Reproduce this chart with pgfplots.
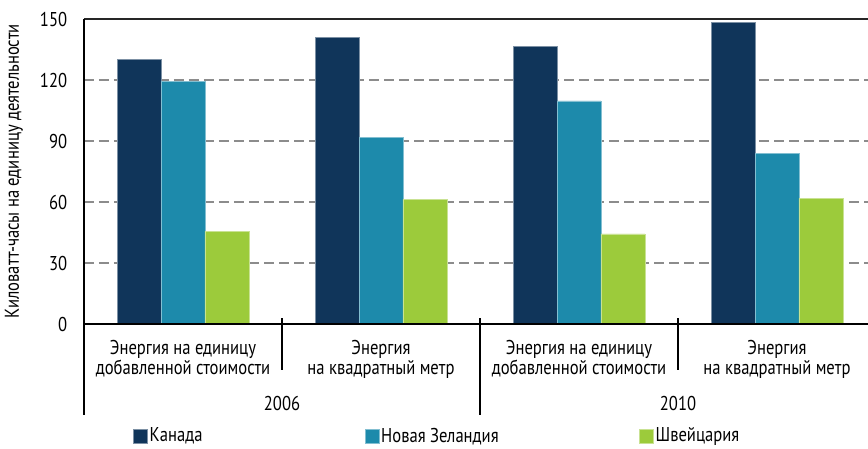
\documentclass[border=0pt]{standalone}
\usepackage{fontspec}
\setmainfont{PT Sans}[FakeStretch=0.83]
\usepackage{pgfplots}
\pgfplotsset{compat=1.18}
\definecolor{cCA}{HTML}{10355A}
\definecolor{cNZ}{HTML}{1D8AAB}
\definecolor{cCH}{HTML}{9CCB3B}
\definecolor{gridgray}{HTML}{8C8C8C}
\begin{document}
\fontsize{20}{20}\selectfont
\begin{tikzpicture}
\useasboundingbox (-84pt,-124pt) rectangle (784pt,324pt);
\begin{axis}[
  scale only axis, width=792pt, height=305pt,
  xmin=-0.5, xmax=3.5, ymin=0, ymax=150,
  ybar=0pt, bar width=0.222,
  xtick={0,1,2,3},
  xticklabels={{Энергия на единицу\\добавленной стоимости},{Энергия\\на квадратный метр},{Энергия на единицу\\добавленной стоимости},{Энергия\\на квадратный метр}},
  xticklabel style={align=center, yshift=-9pt},
  ytick={0,30,60,90,120,150},
  yticklabel style={xshift=-10pt},
  ymajorgrids,
  grid style={gridgray, line width=1.2pt, dash pattern=on 10pt off 5pt},
  major tick length=0pt,
  axis line style={draw=none},
  /pgf/number format/assume math mode=true,
  clip=false,
  ylabel={Киловатт-часы на единицу деятельности},
  every axis y label/.style={at={(axis description cs:-0.0884,0.5)}, rotate=90, anchor=center},
  legend columns=3,
  legend style={at={(axis description cs:0.0619,-0.333)}, anchor=north west, draw=none, fill=none,
    inner sep=0pt, /tikz/every even column/.append style={column sep=5pt}},
  legend image code/.code={\fill[#1] (0pt,-7pt) rectangle (14pt,7pt);},
]
\addplot[fill=cCA, draw=cCA!55!white, line width=0.5pt] coordinates {(0,130.3) (1,140.8) (2,136.4) (3,148.3)};
\addlegendentry{\makebox[208pt][l]{Канада}}
\addplot[fill=cNZ, draw=cNZ!55!white, line width=0.5pt] coordinates {(0,119.4) (1,91.8) (2,109.7) (3,83.8)};
\addlegendentry{\makebox[251pt][l]{Новая Зеландия}}
\addplot[fill=cCH, draw=cCH!55!white, line width=0.5pt] coordinates {(0,45.7) (1,61.3) (2,44.3) (3,61.8)};
\addlegendentry{Швейцария}
\draw[black, line width=1.3pt] (axis cs:-0.5,0) -- (axis cs:3.5,0);
\draw[black!85, line width=2pt] (axis cs:-0.5,150) -- (axis cs:3.5,150);
\draw[black, line width=1.3pt] (axis cs:-0.5,150) -- ([yshift=-91pt]axis cs:-0.5,0);
\draw[black, line width=1.3pt] ([yshift=6pt]axis cs:0.5,0) -- ([yshift=-46pt]axis cs:0.5,0);
\draw[black, line width=1.3pt] ([yshift=6pt]axis cs:1.5,0) -- ([yshift=-91pt]axis cs:1.5,0);
\draw[black, line width=1.3pt] ([yshift=6pt]axis cs:2.5,0) -- ([yshift=-46pt]axis cs:2.5,0);
\node[anchor=base] at ([yshift=-86pt]axis cs:0.5,0) {2006};
\node[anchor=base] at ([yshift=-86pt]axis cs:2.5,0) {2010};
\end{axis}
\end{tikzpicture}
\end{document}
